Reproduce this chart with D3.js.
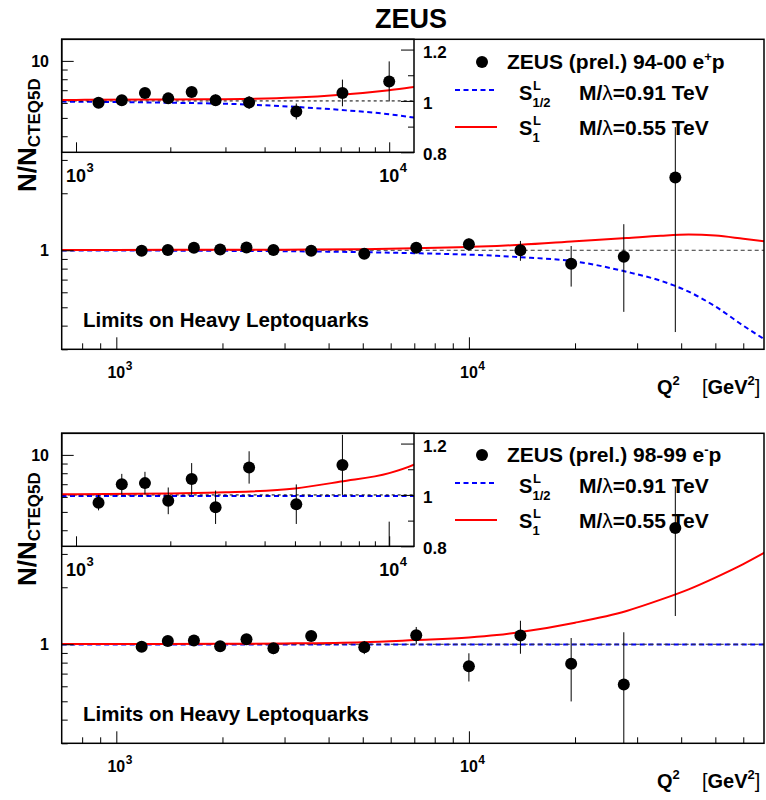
<!DOCTYPE html>
<html><head><meta charset="utf-8">
<script src="https://cdn.jsdelivr.net/npm/d3@7"></script>
<style>
body{margin:0;background:#fff}
svg{display:block}
text{font-family:"Liberation Sans",Arial,Helvetica,sans-serif;font-weight:bold;fill:#000}
</style>
</head><body><svg id="c" width="766" height="800"></svg>
<script>
// ---------------- data ----------------
const q2 = [1180, 1400, 1660, 1970, 2340, 2790, 3570, 5050, 7090, 10000, 14000, 19500, 27500, 38500];
const ratioEplus  = [0.993, 1.003, 1.031, 1.010, 1.035, 1.003, 0.994, 0.959, 1.031, 1.076, 1.000, 0.848, 0.923, 2.42];
const errEplus    = [0.012, 0.013, 0.015, 0.016, 0.018, 0.022, 0.025, 0.031, 0.052, 0.078, 0.12, 0.205, 0.45, 2.05];
const ratioEminus = [0.970, 1.042, 1.046, 0.977, 1.062, 0.952, 1.107, 0.964, 1.117, 0.766, 1.111, 0.789, 0.613, 4.11];
const errEminus   = [0.030, 0.040, 0.044, 0.052, 0.062, 0.065, 0.063, 0.077, 0.117, 0.13, 0.22, 0.29, 0.544, 2.7];

const curveQ2       = [700, 1000, 2000, 3000, 5000, 7000, 10000, 12000, 14000, 20000, 28000, 35000, 42000, 50000, 60000, 69000];
const s1EplusRatio  = [1.003, 1.004, 1.006, 1.007, 1.013, 1.024, 1.042, 1.054, 1.068, 1.115, 1.16, 1.193, 1.21, 1.195, 1.15, 1.115];
const s12EplusRatio = [0.998, 0.997, 0.993, 0.989, 0.977, 0.965, 0.948, 0.935, 0.92, 0.873, 0.77, 0.69, 0.605, 0.505, 0.40, 0.338];
const s1EminusRatio = [1.002, 1.003, 1.006, 1.010, 1.025, 1.052, 1.085, 1.118, 1.16, 1.30, 1.50, 1.72, 1.95, 2.25, 2.65, 3.05];
const s12EminusRatio= [0.996, 0.996, 0.996, 0.996, 0.996, 0.996, 0.996, 0.996, 0.996, 0.996, 0.996, 0.996, 0.996, 0.996, 0.996, 0.996];

const mainXDomain = [700, 68700];
const mainYDomain = [0.3, 13];
const insetXDomain = [900, 12000];
const insetYDomain = [0.8, 1.24];
const mainXMajor = [1000, 10000];
const mainXMinor = [800, 900, 2000, 3000, 4000, 5000, 6000, 7000, 8000, 9000, 20000, 30000, 40000, 50000, 60000];
const mainYMajor = [1, 10];
const mainYMinor = [0.3, 0.4, 0.5, 0.6, 0.7, 0.8, 0.9, 2, 3, 4, 5, 6, 7, 8, 9];
const insetXMajor = [1000, 10000];
const insetXMinor = [2000, 3000, 4000, 5000, 6000, 7000, 8000, 9000];
const insetYMajor = [0.8, 1.0, 1.2];
const insetYMinor = [0.9, 1.1];
const insetYLabels = ["0.8", "1", "1.2"];
const legendSamples = ["94-00", "98-99"];
const legendCharge = ["+", "-"];
const modelLabels = ["M/\u03bb=0.91 TeV", "M/\u03bb=0.55 TeV"];

// ---------------- drawing ----------------
const svg = d3.select('#c');
const F = {l: 61.7, r: 764, t: 39.3, b: 349.3};
const I = {l: 61.7, r: 414, t: 39.3, b: 152.3};
const offsets = [0, 394];

svg.append('text').attr('x', 411).attr('y', 28).attr('text-anchor', 'middle')
  .style('font-size', '27px').text('ZEUS');

const panels = [
  {ratio: ratioEplus, err: errEplus, s1: s1EplusRatio, s12: s12EplusRatio},
  {ratio: ratioEminus, err: errEminus, s1: s1EminusRatio, s12: s12EminusRatio}
];

function tickAxis(g, axisFn, scale, values, size) {
  g.call(axisFn(scale).tickValues(values).tickSize(size).tickFormat(''))
   .call(s => s.select('.domain').remove())
   .call(s => s.selectAll('line').attr('stroke', '#000').attr('stroke-width', 1));
}

function powLabel(g, xc, yb, base, exp, fs, es) {
  const t = g.append('text').attr('x', xc).attr('y', yb).attr('text-anchor', 'middle')
    .style('font-size', fs + 'px').text(base);
  const w = t.node().getComputedTextLength();
  g.append('text').attr('x', xc + w / 2 + 0.5).attr('y', yb - fs * 0.55)
    .style('font-size', es + 'px').text(exp);
}

panels.forEach((p, i) => {
  const off = offsets[i];
  const g = svg.append('g');
  const x = d3.scaleLog().domain(mainXDomain).range([F.l, F.r]);
  const y = d3.scaleLog().domain(mainYDomain).range([F.b + off, F.t + off]);
  const xi = d3.scaleLog().domain(insetXDomain).range([I.l, I.r]);
  const yi = d3.scaleLinear().domain(insetYDomain).range([I.b + off, I.t + off]);

  const cm = 'clipM' + i, ci = 'clipI' + i;
  const defs = svg.append('defs');
  defs.append('clipPath').attr('id', cm).append('rect')
    .attr('x', F.l).attr('y', F.t + off).attr('width', F.r - F.l).attr('height', F.b - F.t);
  defs.append('clipPath').attr('id', ci).append('rect')
    .attr('x', I.l).attr('y', I.t + off).attr('width', I.r - I.l).attr('height', I.b - I.t);

  // ---- main plot ----
  const m = g.append('g').attr('clip-path', `url(#${cm})`);
  const lineM = d3.line().x(d => x(d[0])).y(d => y(d[1])).curve(d3.curveMonotoneX);
  m.append('path').attr('d', lineM(curveQ2.map((q, k) => [q, p.s12[k]])))
    .attr('fill', 'none').attr('stroke', '#0000ff').attr('stroke-width', 2).attr('stroke-dasharray', '5,3.5');
  m.append('line').attr('x1', F.l).attr('x2', F.r).attr('y1', y(1)).attr('y2', y(1))
    .attr('stroke', '#333').attr('stroke-width', 1).attr('stroke-dasharray', '4,3');
  m.append('path').attr('d', lineM(curveQ2.map((q, k) => [q, p.s1[k]])))
    .attr('fill', 'none').attr('stroke', '#ff0000').attr('stroke-width', 2);
  q2.forEach((q, k) => {
    const v = p.ratio[k], e = p.err[k];
    m.append('line').attr('x1', x(q)).attr('x2', x(q))
      .attr('y1', y(v + e)).attr('y2', y(Math.max(v - e, 0.01)))
      .attr('stroke', '#000').attr('stroke-width', 1);
    m.append('circle').attr('cx', x(q)).attr('cy', y(v)).attr('r', 6).attr('fill', '#000');
  });

  tickAxis(g.append('g').attr('transform', `translate(0,${F.b + off})`), d3.axisBottom, x, mainXMajor, -12);
  tickAxis(g.append('g').attr('transform', `translate(0,${F.b + off})`), d3.axisBottom, x, mainXMinor, -6);
  tickAxis(g.append('g').attr('transform', `translate(${F.l},0)`), d3.axisLeft, y, mainYMajor, -12);
  tickAxis(g.append('g').attr('transform', `translate(${F.l},0)`), d3.axisLeft, y, mainYMinor, -6);
  g.append('rect').attr('x', F.l).attr('y', F.t + off).attr('width', F.r - F.l).attr('height', F.b - F.t)
    .attr('fill', 'none').attr('stroke', '#000').attr('stroke-width', 1.5);

  mainXMajor.forEach(v => powLabel(g, x(v), F.b + off + 29, '10', String(Math.round(Math.log10(v))), 16, 12));
  mainYMajor.forEach(v => g.append('text').attr('x', 49).attr('y', y(v) + 6)
    .attr('text-anchor', 'end').style('font-size', '16px').text(String(v)));

  // axis titles
  const qt = g.append('text').attr('x', 657).attr('y', F.b + off + 45).style('font-size', '20px');
  qt.append('tspan').text('Q');
  qt.append('tspan').attr('dy', -9).style('font-size', '13px').text('2');
  qt.append('tspan').attr('x', 702).attr('dy', 9).style('font-weight', 'normal').text('[');
  qt.append('tspan').text('GeV');
  qt.append('tspan').attr('dy', -9).style('font-size', '13px').text('2');
  qt.append('tspan').attr('dy', 9).style('font-weight', 'normal').text(']');

  const yt = g.append('text').attr('transform', `translate(36,${192 + off}) rotate(-90)`).style('font-size', '26px');
  yt.append('tspan').text('N/N');
  yt.append('tspan').attr('dy', 4).style('font-size', '17px').text('CTEQ5D');

  g.append('text').attr('x', 83).attr('y', 327 + off).style('font-size', '20.5px').text('Limits on Heavy Leptoquarks');

  // ---- inset ----
  const n = g.append('g').attr('clip-path', `url(#${ci})`);
  const lineI = d3.line().x(d => xi(d[0])).y(d => yi(d[1])).curve(d3.curveMonotoneX);
  n.append('path').attr('d', lineI(curveQ2.map((q, k) => [q, p.s12[k]])))
    .attr('fill', 'none').attr('stroke', '#0000ff').attr('stroke-width', 2).attr('stroke-dasharray', '5,3.5');
  n.append('line').attr('x1', I.l).attr('x2', I.r).attr('y1', yi(1)).attr('y2', yi(1))
    .attr('stroke', '#000').attr('stroke-width', 1).attr('stroke-dasharray', '3,3');
  n.append('path').attr('d', lineI(curveQ2.map((q, k) => [q, p.s1[k]])))
    .attr('fill', 'none').attr('stroke', '#ff0000').attr('stroke-width', 2);
  q2.forEach((q, k) => {
    const v = p.ratio[k], e = p.err[k];
    n.append('line').attr('x1', xi(q)).attr('x2', xi(q)).attr('y1', yi(v + e)).attr('y2', yi(v - e))
      .attr('stroke', '#000').attr('stroke-width', 1);
    n.append('circle').attr('cx', xi(q)).attr('cy', yi(v)).attr('r', 6).attr('fill', '#000');
  });
  tickAxis(g.append('g').attr('transform', `translate(0,${I.b + off})`), d3.axisBottom, xi, insetXMajor, -10);
  tickAxis(g.append('g').attr('transform', `translate(0,${I.b + off})`), d3.axisBottom, xi, insetXMinor, -5);
  tickAxis(g.append('g').attr('transform', `translate(${I.r},0)`), d3.axisRight, yi, insetYMajor, -13);
  tickAxis(g.append('g').attr('transform', `translate(${I.r},0)`), d3.axisRight, yi, insetYMinor, -6);
  g.append('rect').attr('x', I.l).attr('y', I.t + off).attr('width', I.r - I.l).attr('height', I.b - I.t)
    .attr('fill', 'none').attr('stroke', '#000').attr('stroke-width', 1.5);
  insetXMajor.forEach(v => powLabel(g, xi(v), I.b + off + 30, '10', String(Math.round(Math.log10(v))), 18, 13));
  insetYMajor.forEach((v, k) => g.append('text').attr('x', 423).attr('y', yi(v) + 8)
    .style('font-size', '17px').text(insetYLabels[k]));

  // ---- legend ----
  const lo = off === 0 ? 0 : 393;
  g.append('circle').attr('cx', 482).attr('cy', 62 + lo).attr('r', 6).attr('fill', '#000');
  const lt = g.append('text').attr('x', 507).attr('y', 69.3 + lo).style('font-size', '21px');
  lt.append('tspan').text(`ZEUS (prel.) ${legendSamples[i]} e`);
  lt.append('tspan').attr('dy', -8).style('font-size', '13px').text(legendCharge[i]);
  lt.append('tspan').attr('dy', 8).text('p');

  g.append('line').attr('x1', 455).attr('x2', 497).attr('y1', 90 + lo).attr('y2', 90 + lo)
    .attr('stroke', '#0000ff').attr('stroke-width', 2).attr('stroke-dasharray', '5,3.5');
  g.append('line').attr('x1', 455).attr('x2', 497).attr('y1', 127 + lo).attr('y2', 127 + lo)
    .attr('stroke', '#ff0000').attr('stroke-width', 2);
  [[99.5, '1/2'], [135, '1']].forEach((r, k) => {
    const yb = r[0] + lo;
    g.append('text').attr('x', 519).attr('y', yb).style('font-size', '20px').text('S');
    g.append('text').attr('x', 533).attr('y', yb - 10).style('font-size', '13px').text('L');
    g.append('text').attr('x', 532.5).attr('y', yb + 7).style('font-size', '13px').text(r[1]);
    const mt = g.append('text').attr('x', 579).attr('y', yb).style('font-size', '21px');
    const parts = modelLabels[k].split('\u03bb');
    mt.append('tspan').text(parts[0]);
    mt.append('tspan').style('font-weight', 'normal').text('\u03bb');
    mt.append('tspan').text(parts[1]);
  });
});
</script>
</body></html>
